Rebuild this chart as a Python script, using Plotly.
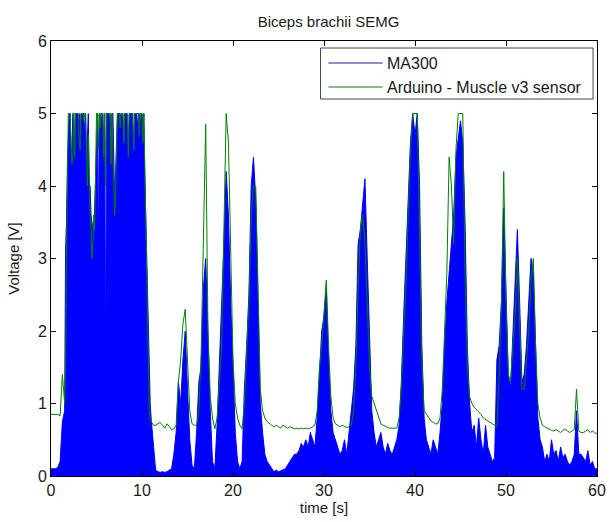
import plotly.graph_objects as go

# Sample times (s): 0.25 s spacing, finer 0.1 s spacing over the 1.5-11 s burst
time_s = ([round(i * 0.25, 3) for i in range(6)]
          + [round(1.5 + i * 0.1, 3) for i in range(95)]
          + [round(11 + i * 0.25, 3) for i in range(197)])

# MA300 signal envelope (V)
ma300 = [
    0.10, 0.10, 0.10, 0.12, 0.20, 0.75,              # 0 - 1.25
    # 1.5 - 1.9
    0.90, 3.10, 3.50, 4.30, 4.60,
    5.00, 5.00, 4.40, 4.50, 5.00, 5.00, 4.50, 5.00, 5.00, 5.00,  # 2.x
    4.80, 5.00, 4.40, 5.00, 5.00, 5.00, 5.00, 4.70, 5.00, 4.30,  # 3.x
    4.60, 5.00, 4.00, 4.00, 3.60, 3.50, 3.40, 3.30, 3.70, 4.00,  # 4.x
    4.50, 5.00, 2.80, 5.00, 5.00, 4.80, 5.00, 5.00, 4.40, 5.00,  # 5.x
    1.20, 5.00, 5.00, 5.00, 4.90, 5.00, 4.60, 5.00, 5.00, 4.20,  # 6.x
    3.80, 4.20, 4.60, 5.00, 5.00, 5.00, 5.00, 4.90, 5.00, 5.00,  # 7.x
    4.40, 5.00, 5.00, 5.00, 4.80, 4.50, 5.00, 5.00, 5.00, 5.00,  # 8.x
    5.00, 4.30, 5.00, 5.00, 5.00, 4.80, 5.00, 5.00, 4.80, 5.00,  # 9.x
    5.00, 4.80, 5.00, 4.20, 3.60, 3.20, 2.40, 1.80, 1.30, 1.00,  # 10.x
    # from 11 s, 4 samples per second
    0.80, 0.40, 0.08, 0.06,  # 11
    0.05, 0.06, 0.05, 0.06,  # 12
    0.08, 0.10, 0.30, 0.60,  # 13
    1.30, 1.00, 1.60, 2.00,  # 14
    1.20, 0.50, 0.15, 0.10,  # 15
    0.60, 1.30, 1.50, 2.60,  # 16
    3.00, 1.80, 0.90, 0.20,  # 17
    0.10, 0.70, 1.50, 2.20,  # 18
    3.20, 4.20, 3.60, 2.40,  # 19
    1.50, 0.60, 0.20, 0.10,  # 20
    0.20, 1.20, 1.80, 2.50,  # 21
    4.00, 4.40, 3.80, 2.30,  # 22
    1.00, 0.60, 0.30, 0.20,  # 23
    0.15, 0.10, 0.06, 0.08,  # 24
    0.06, 0.07, 0.08, 0.10,  # 25
    0.15, 0.20, 0.25, 0.30,  # 26
    0.30, 0.35, 0.45, 0.40,  # 27
    0.50, 0.40, 0.60, 0.50,  # 28
    0.40, 0.80, 1.50, 2.00,  # 29
    2.20, 2.60, 1.60, 0.90,  # 30
    0.60, 0.50, 0.40, 0.30,  # 31
    0.35, 0.50, 0.30, 0.60,  # 32
    0.90, 1.20, 1.80, 3.20,  # 33
    3.40, 3.80, 4.10, 3.00,  # 34
    1.80, 0.90, 0.60, 0.40,  # 35
    0.50, 0.60, 0.40, 0.30,  # 36
    0.45, 0.35, 0.30, 0.40,  # 37
    0.50, 0.70, 1.30, 2.20,  # 38
    3.00, 3.60, 4.60, 5.00,  # 39
    4.70, 5.00, 4.00, 1.80,  # 40
    0.80, 0.50, 0.40, 0.30,  # 41
    0.50, 0.40, 0.30, 0.60,  # 42
    1.00, 1.80, 2.40, 2.80,  # 43
    3.20, 3.60, 4.40, 4.70,  # 44
    4.90, 4.60, 3.50, 1.80,  # 45
    1.00, 0.60, 0.70, 0.40,  # 46
    0.80, 0.50, 0.30, 0.70,  # 47
    0.40, 0.30, 0.20, 0.25,  # 48
    1.60, 1.80, 2.40, 3.70,  # 49
    2.60, 1.40, 1.20, 2.00,  # 50
    2.60, 3.40, 2.40, 1.30,  # 51
    1.40, 1.80, 2.40, 3.00,  # 52
    2.80, 1.80, 0.80, 0.50,  # 53
    0.40, 0.20, 0.30, 0.20,  # 54
    0.50, 0.30, 0.35, 0.20,  # 55
    0.40, 0.25, 0.30, 0.20,  # 56
    0.15, 0.20, 0.30, 0.90,  # 57
    0.30, 0.30, 0.25, 0.20,  # 58
    0.35, 0.15, 0.20, 0.10,  # 59
    0.10,                    # 60
]

# Arduino Muscle v3 sensor signal (V)
arduino = [
    0.85, 0.85, 0.84, 0.85, 0.83, 1.40,              # 0 - 1.25
    # 1.5 - 1.9
    1.00, 1.50, 3.00, 4.50, 5.00,
    5.00, 5.00, 4.60, 4.30, 4.40, 5.00, 4.40, 5.00, 5.00, 5.00,  # 2.x
    5.00, 4.60, 4.50, 5.00, 5.00, 5.00, 4.90, 5.00, 5.00, 4.40,  # 3.x
    4.00, 4.70, 4.10, 3.60, 3.40, 3.00, 3.20, 3.60, 3.40, 4.60,  # 4.x
    5.00, 5.00, 4.50, 5.00, 4.80, 5.00, 5.00, 5.00, 4.40, 5.00,  # 5.x
    4.00, 5.00, 5.00, 5.00, 5.00, 5.00, 4.30, 5.00, 4.50, 3.90,  # 6.x
    3.60, 3.90, 4.50, 5.00, 5.00, 5.00, 4.80, 5.00, 5.00, 5.00,  # 7.x
    4.60, 5.00, 5.00, 5.00, 5.00, 4.40, 5.00, 5.00, 5.00, 5.00,  # 8.x
    4.80, 4.50, 5.00, 5.00, 5.00, 5.00, 5.00, 4.70, 5.00, 5.00,  # 9.x
    5.00, 4.60, 5.00, 4.30, 3.60, 2.80, 2.00, 1.30, 0.90, 0.78,  # 10.x
    # from 11 s, 4 samples per second
    0.75, 0.70, 0.70, 0.72,  # 11
    0.74, 0.70, 0.66, 0.72,  # 12
    0.68, 0.64, 0.65, 0.70,  # 13
    1.30, 1.60, 2.10, 2.30,  # 14
    1.60, 0.90, 0.72, 0.70,  # 15
    0.70, 0.90, 1.70, 3.50,  # 16
    4.85, 2.00, 1.10, 0.80,  # 17
    0.65, 0.80, 1.30, 1.80,  # 18
    3.40, 5.00, 4.60, 3.00,  # 19
    1.60, 1.00, 0.80, 0.70,  # 20
    0.65, 1.00, 1.60, 2.40,  # 21
    3.60, 4.00, 4.00, 2.60,  # 22
    1.20, 0.90, 0.80, 0.75,  # 23
    0.72, 0.70, 0.68, 0.70,  # 24
    0.68, 0.66, 0.70, 0.68,  # 25
    0.66, 0.68, 0.66, 0.65,  # 26
    0.66, 0.65, 0.66, 0.65,  # 27
    0.66, 0.65, 0.66, 0.68,  # 28
    0.70, 0.90, 1.50, 1.80,  # 29
    2.20, 2.70, 1.80, 1.10,  # 30
    0.80, 0.72, 0.70, 0.68,  # 31
    0.70, 0.68, 0.67, 0.68,  # 32
    0.70, 0.90, 1.50, 2.60,  # 33
    3.40, 3.60, 3.20, 2.40,  # 34
    1.50, 1.10, 1.00, 0.90,  # 35
    0.80, 0.72, 0.70, 0.68,  # 36
    0.67, 0.66, 0.66, 0.65,  # 37
    0.66, 0.80, 1.20, 2.00,  # 38
    2.60, 3.60, 4.50, 5.00,  # 39
    5.00, 5.00, 3.40, 1.60,  # 40
    0.90, 0.85, 0.80, 0.76,  # 41
    0.74, 0.72, 0.72, 0.80,  # 42
    1.20, 1.90, 2.80, 4.40,  # 43
    4.00, 3.20, 4.50, 5.00,  # 44
    5.00, 5.00, 2.80, 1.50,  # 45
    1.10, 1.00, 0.95, 0.92,  # 46
    0.88, 0.85, 0.80, 0.78,  # 47
    0.75, 0.74, 0.72, 0.70,  # 48
    0.68, 1.40, 2.40, 4.20,  # 49
    2.40, 1.40, 1.30, 1.80,  # 50
    2.20, 3.00, 2.20, 1.20,  # 51
    1.20, 1.60, 2.00, 2.70,  # 52
    3.00, 1.80, 1.00, 0.80,  # 53
    0.70, 0.68, 0.66, 0.64,  # 54
    0.63, 0.62, 0.64, 0.62,  # 55
    0.60, 0.63, 0.65, 0.62,  # 56
    0.60, 0.62, 0.64, 1.20,  # 57
    0.62, 0.60, 0.60, 0.62,  # 58
    0.64, 0.60, 0.62, 0.60,  # 59
    0.58,                    # 60
]

assert len(time_s) == len(ma300) == len(arduino), (len(time_s), len(ma300), len(arduino))

series_names = ["MA300", "Arduino - Muscle v3 sensor"]
x_ticks = [0, 10, 20, 30, 40, 50, 60]
y_ticks = [0, 1, 2, 3, 4, 5, 6]

BLUE = "#0000ff"
GREEN = "#008000"
FONT = "Liberation Sans, Arial, sans-serif"
TXT = "#1a1a1a"

W, H = 616, 522
L, R, T, B = 51, 10, 41, 46
PW, PH = W - L - R, H - T - B


def px(xp):
    return (xp - L) / PW


def py(yp):
    return (H - B - yp) / PH


fig = go.Figure()
fig.add_trace(go.Scatter(
    x=time_s, y=ma300, name=series_names[0], mode="lines",
    line=dict(color=BLUE, width=1), fill="tozeroy", fillcolor=BLUE,
    showlegend=False,
))
fig.add_trace(go.Scatter(
    x=time_s, y=arduino, name=series_names[1], mode="lines",
    line=dict(color=GREEN, width=1), showlegend=False,
))

axis_common = dict(
    showline=True, linecolor="black", linewidth=1, mirror="ticks",
    ticks="inside", ticklen=5, tickcolor="black", showgrid=False,
    zeroline=False, tickfont=dict(family=FONT, size=16, color=TXT),
)
fig.update_xaxes(range=[0, 60], tickvals=x_ticks,
                 title=dict(text="time [s]", font=dict(family=FONT, size=15, color=TXT), standoff=1),
                 **axis_common)
fig.update_yaxes(range=[0, 6], tickvals=y_ticks,
                 title=dict(text="Voltage [V]", font=dict(family=FONT, size=15, color=TXT), standoff=14),
                 **axis_common)

# manual MATLAB-style legend box
fig.add_shape(type="rect", xref="paper", yref="paper",
              x0=px(325), x1=px(602), y0=py(99), y1=py(48),
              line=dict(color="#444", width=1), fillcolor="white", layer="above")
for col, yy in [("#1a1aa0", 63), (GREEN, 87)]:
    fig.add_shape(type="line", xref="paper", yref="paper",
                  x0=px(333), x1=px(388), y0=py(yy), y1=py(yy),
                  line=dict(color=col, width=1), layer="above")
for name, yy in [(series_names[0], 63), (series_names[1], 87)]:
    fig.add_annotation(xref="paper", yref="paper", x=px(391), y=py(yy),
                       xanchor="left", yanchor="middle", showarrow=False,
                       text=name, font=dict(family=FONT, size=16, color=TXT))

fig.update_layout(
    width=W, height=H,
    margin=dict(l=L, r=R, t=T, b=B),
    paper_bgcolor="white", plot_bgcolor="white",
    title=dict(text="Biceps brachii SEMG", x=(L + PW / 2) / W,
               xanchor="center", y=1 - 22 / H, yanchor="middle",
               font=dict(family=FONT, size=15, color=TXT)),
)

fig.write_html("out.html")
